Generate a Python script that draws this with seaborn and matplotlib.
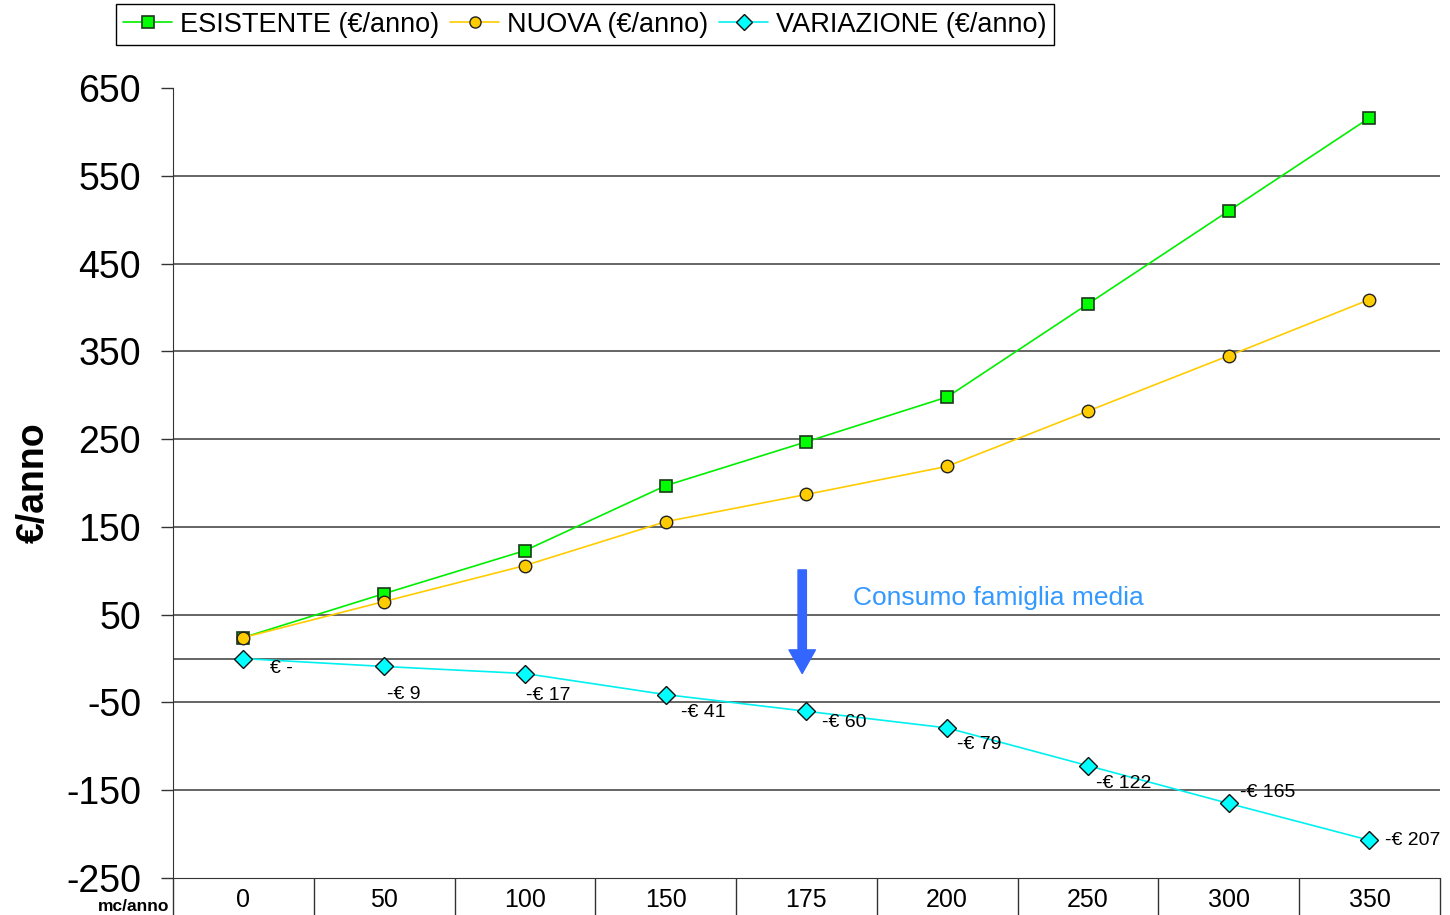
import numpy as np
import pandas as pd
import matplotlib
matplotlib.use("Agg")
import matplotlib.pyplot as plt
import seaborn as sns

# consumption classes (mc/anno)
consumi = ["0", "50", "100", "150", "175", "200", "250", "300", "350"]
esistente = [24, 74, 123, 197, 247, 298, 404, 510, 616]
nuova = [24, 65, 106, 156, 187, 219, 282, 345, 409]
variazione = [0, -9, -17, -41, -60, -79, -122, -165, -207]
etichette_var = ["€ -", "-€ 9", "-€ 17", "-€ 41", "-€ 60", "-€ 79", "-€ 122", "-€ 165", "-€ 207"]

# label offsets in points (dx, dy)
label_offsets = [(19, -7), (2, -20), (1, -16), (11, -13), (11, -8), (7, -12), (6, -13), (8, 8), (11, 0)]

sns.set_style("white")
plt.rcParams["font.family"] = ["Liberation Sans", "DejaVu Sans"]
plt.rcParams["axes.unicode_minus"] = False
plt.rcParams["text.color"] = "black"
plt.rcParams["xtick.color"] = "black"
plt.rcParams["ytick.color"] = "black"
plt.rcParams["axes.labelcolor"] = "black"

df = pd.DataFrame({
    "pos": np.arange(len(consumi)),
    "ESISTENTE (€/anno)": esistente,
    "NUOVA (€/anno)": nuova,
    "VARIAZIONE (€/anno)": variazione,
})

fig = plt.figure(figsize=(14.5, 9.15), dpi=100)
ax = fig.add_axes([0.1193, 0.0404, 0.8737, 0.8634])

# grid lines
for yv in [-150, -50, 0, 50, 150, 250, 350, 450, 550]:
    ax.axhline(yv, color="#3a3a3a", lw=1.1, zorder=1)

sns.lineplot(data=df, x="pos", y="ESISTENTE (€/anno)", ax=ax, color="#00ee00", lw=1.2,
             marker="s", markersize=9, markerfacecolor="#00ff00", markeredgecolor="#1a3a1a",
             markeredgewidth=1.2, label="ESISTENTE (€/anno)", zorder=3)
sns.lineplot(data=df, x="pos", y="NUOVA (€/anno)", ax=ax, color="#ffcc00", lw=1.2,
             marker="o", markersize=9, markerfacecolor="#ffcc00", markeredgecolor="#222222",
             markeredgewidth=1.0, label="NUOVA (€/anno)", zorder=4)
sns.lineplot(data=df, x="pos", y="VARIAZIONE (€/anno)", ax=ax, color="#00f0f0", lw=1.2,
             marker="D", markersize=9, markerfacecolor="#00ffff", markeredgecolor="#111111",
             markeredgewidth=1.0, label="VARIAZIONE (€/anno)", zorder=5)

for i, (v, t) in enumerate(zip(variazione, etichette_var)):
    ax.annotate(t, (i, v), xytext=label_offsets[i], textcoords="offset points",
                fontsize=14, ha="left", va="center", color="black", zorder=6)

# arrow + note
ax.annotate("", xy=(3.97, -17), xytext=(3.97, 101),
            arrowprops=dict(width=6, headwidth=19, headlength=17,
                            color="#3366ff", shrink=0), zorder=7)
ax.text(4.33, 69, "Consumo famiglia media", color="#3399ff", fontsize=19,
        ha="left", va="center")

ax.set_xlim(-0.5, len(consumi) - 0.5)
ax.set_ylim(-250, 650)
ax.set_yticks(np.arange(-250, 651, 100))
ax.set_xticks(np.arange(len(consumi)))
ax.set_xticklabels(consumi, fontsize=18)
ax.set_xticks(np.arange(-0.5, len(consumi)), minor=True)
ax.tick_params(axis="x", which="major", length=0, pad=7)
ax.tick_params(axis="x", which="minor", bottom=True, length=28, width=1.0,
               color="#333333", direction="out")
ax.tick_params(axis="y", which="major", length=9, width=1.0, color="#333333",
               direction="out", labelsize=27, pad=14, left=True)

for s in ["top", "right"]:
    ax.spines[s].set_visible(False)
ax.spines["left"].set_color("#333333")
ax.spines["bottom"].set_color("#333333")

ax.set_xlabel("")
ax.set_ylabel("€/anno", fontsize=27, fontweight="bold", labelpad=10)
fig.text(0.117, 0.009, "mc/anno", fontsize=12.5, fontweight="bold", ha="right", va="center")

leg = ax.legend(loc="upper center", bbox_to_anchor=(585 / 1450, 1 - 4 / 915),
                bbox_transform=fig.transFigure, ncol=3, fontsize=19.5, frameon=True,
                fancybox=False, edgecolor="black", framealpha=1, handlelength=1.8,
                handletextpad=0.3, columnspacing=0.4, borderpad=0.28, borderaxespad=0)
leg.get_frame().set_linewidth(1.0)
for h in leg.legend_handles:
    h.set_markersize(8)

fig.savefig("out.png", dpi=100)
